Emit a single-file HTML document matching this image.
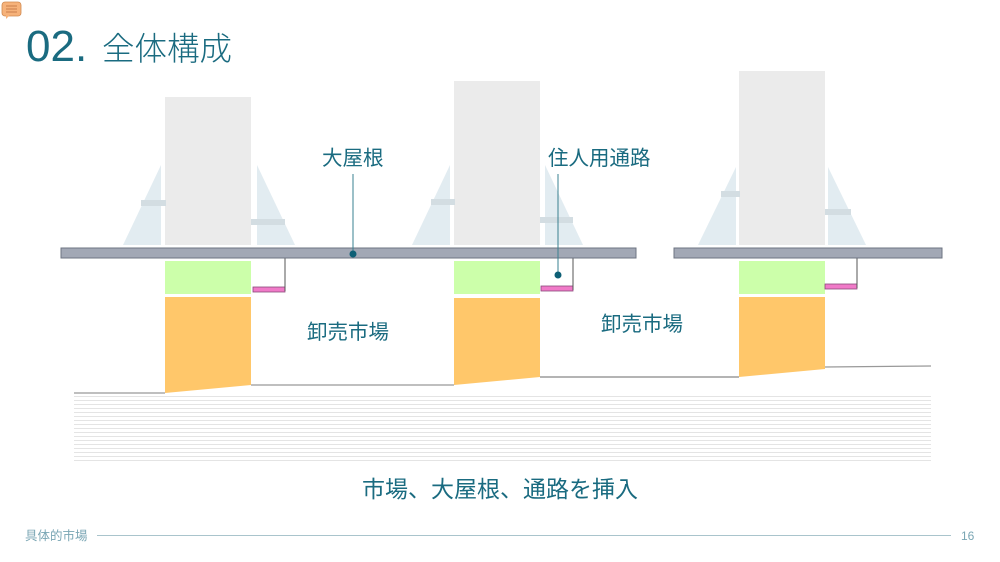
<!DOCTYPE html>
<html><head><meta charset="utf-8"><style>
html,body{margin:0;padding:0;background:#fff;}
body{width:1000px;height:562px;overflow:hidden;position:relative;font-family:"Liberation Sans","Noto Sans CJK JP",sans-serif;}
svg{position:absolute;left:0;top:0;}
</style></head><body>
<svg width="1000" height="562" viewBox="0 0 1000 562" xmlns="http://www.w3.org/2000/svg">
<defs>
<pattern id="h" width="10" height="4" patternUnits="userSpaceOnUse"><rect width="10" height="1" fill="#e4e4e4"/></pattern>
</defs>
<rect x="2" y="2" width="19" height="14" rx="3" fill="#f6b27a" stroke="#d08a50" stroke-width="0.8"/>
<polygon points="6,15 6,19 10,15" fill="#f6b27a"/>
<line x1="6" y1="6" x2="17" y2="6" stroke="#c07040" stroke-width="0.8"/>
<line x1="6" y1="9" x2="17" y2="9" stroke="#c07040" stroke-width="0.8"/>
<line x1="6" y1="12" x2="17" y2="12" stroke="#c07040" stroke-width="0.8"/>
<text x="26" y="61" font-size="44" fill="#1a6b80" font-family="Liberation Sans, sans-serif">02.</text>
<text x="102" y="60" font-size="32.5" fill="#1a6b80" font-family="Noto Sans CJK JP, sans-serif" font-weight="300">全体構成</text>

<rect x="74" y="395" width="857" height="66" fill="url(#h)"/>
<polygon points="74,393 165,393 251,385 454,385 540,377 739,377 825,369 931,366 931,395 74,395" fill="#fff"/>
<polyline points="74,393 165,393" fill="none" stroke="#999" stroke-width="1.2"/>
<polyline points="251,385 454,385" fill="none" stroke="#999" stroke-width="1.2"/>
<polyline points="540,377 739,377" fill="none" stroke="#888" stroke-width="1.2"/>
<polyline points="825,367 931,366" fill="none" stroke="#999" stroke-width="1.2"/>

<polygon points="123,245 161,165 161,245" fill="#e2ecf1"/>
<polygon points="257,165 295,245 257,245" fill="#e2ecf1"/>
<rect x="165" y="97" width="86" height="148" fill="#ebebeb"/>
<rect x="141" y="200" width="25" height="6" fill="#d3dde2"/>
<rect x="251" y="219" width="34" height="6" fill="#d3dde2"/>
<rect x="165" y="261" width="86" height="33" fill="#ccffaa"/>
<polygon points="165,297 251,297 251,385 165,393" fill="#ffc76a"/>
<rect x="253" y="287" width="32" height="5" fill="#f07ac8" stroke="#8a4a7a" stroke-width="0.8"/>
<line x1="285" y1="258" x2="285" y2="291" stroke="#555" stroke-width="1"/>

<polygon points="412,245 450,165 450,245" fill="#e2ecf1"/>
<polygon points="545,165 583,245 545,245" fill="#e2ecf1"/>
<rect x="454" y="81" width="86" height="164" fill="#ebebeb"/>
<rect x="431" y="199" width="24" height="6" fill="#d3dde2"/>
<rect x="540" y="217" width="33" height="6" fill="#d3dde2"/>
<rect x="454" y="261" width="86" height="33" fill="#ccffaa"/>
<polygon points="454,298 540,298 540,377 454,385" fill="#ffc76a"/>
<rect x="541" y="286" width="32" height="5" fill="#f07ac8" stroke="#8a4a7a" stroke-width="0.8"/>
<line x1="573" y1="258" x2="573" y2="290" stroke="#555" stroke-width="1"/>

<polygon points="698,245 736,167 736,245" fill="#e2ecf1"/>
<polygon points="828,167 866,245 828,245" fill="#e2ecf1"/>
<rect x="739" y="71" width="86" height="174" fill="#ebebeb"/>
<rect x="721" y="191" width="19" height="6" fill="#d3dde2"/>
<rect x="825" y="209" width="26" height="6" fill="#d3dde2"/>
<rect x="739" y="261" width="86" height="33" fill="#ccffaa"/>
<polygon points="739,297 825,297 825,369 739,377" fill="#ffc76a"/>
<rect x="825" y="284" width="32" height="5" fill="#f07ac8" stroke="#8a4a7a" stroke-width="0.8"/>
<line x1="857" y1="258" x2="857" y2="288" stroke="#555" stroke-width="1"/>

<rect x="61" y="248" width="575" height="10" fill="#a2a8b5" stroke="#6e7482" stroke-width="1"/>
<rect x="674" y="248" width="268" height="10" fill="#a2a8b5" stroke="#6e7482" stroke-width="1"/>

<text x="322" y="165" font-size="20.5" fill="#1a6b80" font-family="Noto Sans CJK JP, sans-serif">大屋根</text>
<line x1="353" y1="174" x2="353" y2="254" stroke="#3a8090" stroke-width="1"/>
<circle cx="353" cy="254" r="3.5" fill="#0d5f75"/>
<text x="548" y="165" font-size="20.5" fill="#1a6b80" font-family="Noto Sans CJK JP, sans-serif">住人用通路</text>
<line x1="558" y1="174" x2="558" y2="275" stroke="#3a8090" stroke-width="1"/>
<circle cx="558" cy="275" r="3.5" fill="#0d5f75"/>
<text x="307" y="339" font-size="20.5" fill="#1a6b80" font-family="Noto Sans CJK JP, sans-serif">卸売市場</text>
<text x="601" y="331" font-size="20.5" fill="#1a6b80" font-family="Noto Sans CJK JP, sans-serif">卸売市場</text>
<text x="500" y="497" font-size="23" fill="#1a6b80" text-anchor="middle" font-family="Noto Sans CJK JP, sans-serif">市場、大屋根、通路を挿入</text>

<text x="25" y="540" font-size="12.5" fill="#7aa6b4" font-family="Noto Sans CJK JP, sans-serif">具体的市場</text>
<line x1="97" y1="535.5" x2="951" y2="535.5" stroke="#a9c4cc" stroke-width="1"/>
<text x="961" y="540" font-size="12" fill="#7aa6b4">16</text>
</svg>
</body></html>
